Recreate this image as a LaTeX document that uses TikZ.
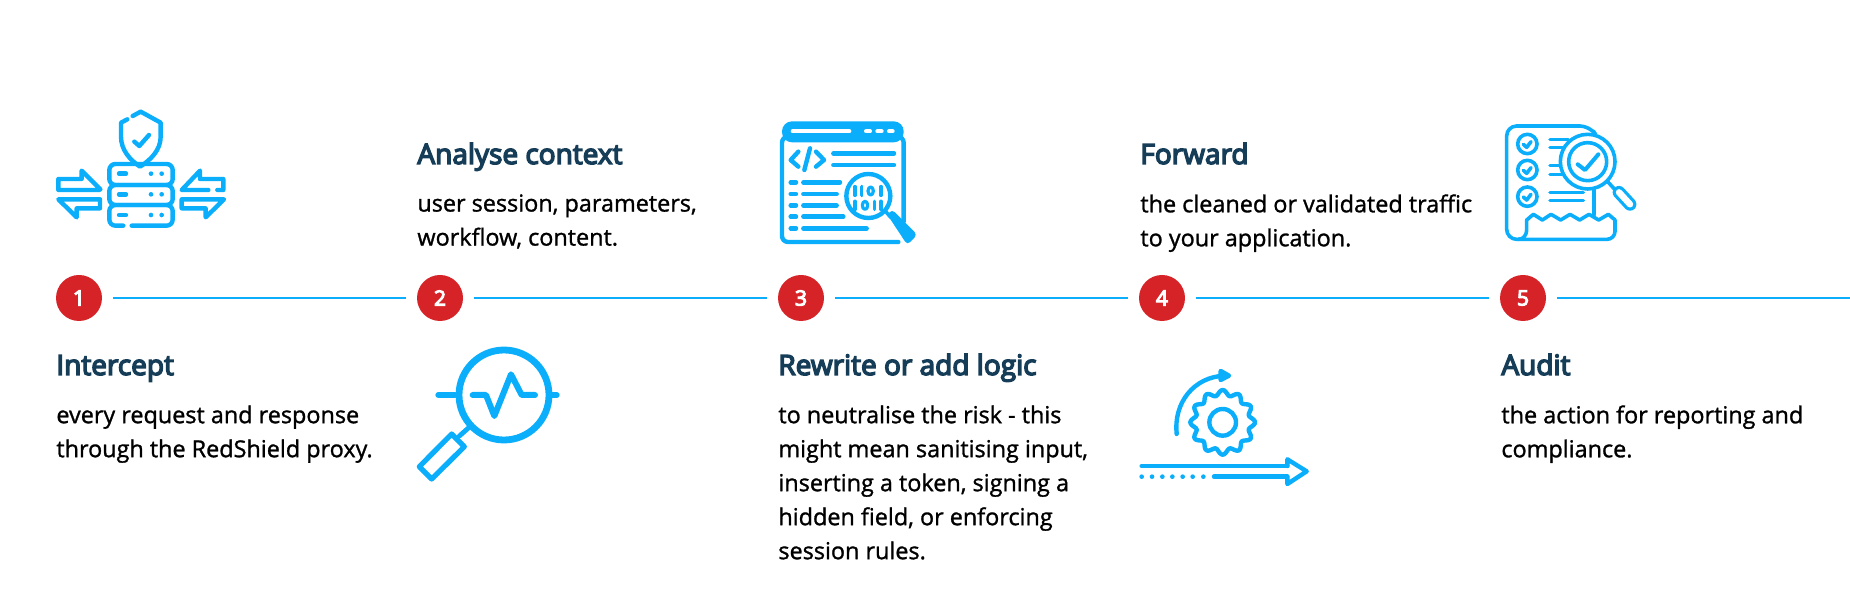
\documentclass[tikz,border=0pt]{standalone}
\usepackage{fontspec}
\setmainfont[FakeBold=1.2]{Open Sans}
\newfontfamily\headfont[FakeBold=5]{Open Sans}
\usepackage{xcolor}
\usetikzlibrary{arrows.meta,positioning}
\definecolor{iconblue}{HTML}{0AAEFB}
\definecolor{stepred}{HTML}{D62328}
\definecolor{headnavy}{HTML}{163D58}
\tikzset{
  stepnum/.style={circle,fill=stepred,text=white,minimum size=23pt,inner sep=0pt,font=\headfont\fontsize{10.5}{12}\selectfont},
  link/.style={draw=iconblue,line width=0.8pt},
  head/.style={anchor=base west,inner sep=0pt,text=headnavy,font=\headfont\fontsize{14}{17}\selectfont},
  body/.style={anchor=north west,inner sep=0pt,align=left,text=black,font=\fontsize{11.7}{17}\selectfont},
  icon/.style={draw=iconblue,line width=2.2pt,line cap=round,line join=round},
  zoomed/.style={x=0.16667pt,y=-0.16667pt},
}
\begin{document}
\begin{tikzpicture}[x=0.5pt,y=-0.5pt]
\useasboundingbox (0,0) rectangle (1850,597);
% steps and their links
\foreach \i/\x in {1/79,2/440,3/801,4/1162,5/1523} {\node[stepnum] (n\i) at (\x,298) {\i};}
\coordinate (lineend) at (1850,298);
\foreach \a/\b in {1/2,2/3,3/4,4/5} {\draw[link,shorten <=5.5pt,shorten >=5.5pt] (n\a)--(n\b);}
\draw[link,shorten <=5.5pt] (n5)--(lineend);
% texts
\node[head] (h1) at (56,375) {Intercept};
\node[body] (b1) at (56,405) {every request and response\\through the RedShield proxy.};
\node[head] (h2) at (417,164) {Analyse context};
\node[body] (b2) at (417,194) {user session, parameters,\\workflow, content.};
\node[head] (h3) at (778,375) {Rewrite or add logic};
\node[body] (b3) at (778,405) {to neutralise the risk - this\\might mean sanitising input,\\inserting a token, signing a\\hidden field, or enforcing\\session rules.};
\node[head] (h4) at (1140,164) {Forward};
\node[body] (b4) at (1140,194) {the cleaned or validated traffic\\to your application.};
\node[head] (h5) at (1501,375) {Audit};
\node[body] (b5) at (1501,405) {the action for reporting and\\compliance.};
% icon 1, shield and server
\begin{scope}[shift={(40,100)},zoomed,icon]
\draw (278,48)--(302,35)--(362,68)--(362,110) .. controls (362,150) and (332,180) .. (300,200) .. controls (270,180) and (243,150) .. (243,110)--(243,68)--(262,58);
\draw (283,125)--(298,138)--(327,105);
\draw[rounded corners=3pt] (208,192) rectangle (398,255);
\draw[rounded corners=3pt] (208,255) rectangle (398,315);
\draw[rounded corners=3pt] (275,377)--(398,377)--(398,315)--(208,315)--(208,377)--(250,377);
\foreach \y in {221,283,345} {
  \draw (237,\y)--(258,\y);
  \fill[iconblue] (333,\y) circle (7) (365,\y) circle (7);
}
\draw (178,270)--(55,270)--(55,237)--(125,237)--(125,212)--(181,268);
\draw (55,298)--(180,298)--(180,325)--(110,325)--(110,352)--cycle;
\draw (505,270)--(425,270)--(480,212)--(480,237)--(550,237)--(550,270)--(532,270);
\draw (425,298)--(552,298)--(497,352)--(497,325)--(425,325)--cycle;
\end{scope}
% icon 2, magnifier with pulse
\begin{scope}[shift={(400,330)},zoomed,icon]
\draw[line width=3.4pt] (312,195) circle (135);
\draw[line width=3pt] (115,195)--(165,195) (458,195)--(470,195);
\draw[line width=3pt] (218,195)--(258,195)--(283,258)--(333,133)--(365,195)--(405,195);
\draw[line width=2.4pt] (178,318)--(212,288);
\draw[line width=2.6pt] (155,312)--(193,350)--(95,447)--(58,410)--cycle;
\end{scope}
% icon 3, code window
\begin{scope}[shift={(770,110)},zoomed,icon]
\fill[iconblue,rounded corners=5pt] (36,97)--(36,34)--(401,34)--(401,97)--cycle;
\draw[rounded corners=3pt] (401,335)--(401,80)--(36,80)--(36,396)--(385,396);
\draw[draw=white,line width=2pt] (68,64)--(238,64) (288,64)--(300,64) (322,64)--(335,64) (357,64)--(368,64);
\draw (85,125)--(62,150)--(85,170) (138,125)--(162,150)--(138,170) (120,115)--(103,180);
\draw (190,130)--(372,130) (190,165)--(372,165);
\foreach \y/\l in {217/210,252/200,286/200,320/220,355/290} {\draw (62,\y)--(78,\y) (100,\y)--(\l,\y);}
\draw (295,258) circle (66);
\draw[line width=1.8pt] (255,230)--(255,256) (275,230)--(275,256) (333,230)--(333,256) (255,274)--(255,298) (313,274)--(313,298) (333,274)--(333,298);
\draw[line width=1.6pt] (302,243) ellipse (8 and 12) (285,286) ellipse (8 and 12);
\draw[line width=1.8pt] (345,302)--(362,322);
\fill[iconblue,line width=1pt,rounded corners=2pt] (366,298)--(442,374)--(412,405)--(352,314)--cycle;
\end{scope}
% icon 4, gear and arrow
\begin{scope}[shift={(1130,360)},zoomed,icon]
\draw plot[domain=0:360,samples=145] ({278+(89+8*cos(12*\x))*cos(\x)},{187+(89+8*cos(12*\x))*sin(\x)})--cycle;
\draw (278,187) circle (40);
\draw (140,222) .. controls (130,130) and (190,50) .. (285,47);
\fill[iconblue,draw=iconblue] (272,33)--(297,47)--(272,60)--cycle;
\draw (35,318)--(472,318) (252,350)--(472,350);
\draw (472,318)--(472,298)--(530,334)--(472,372)--(472,350);
\foreach \x in {35,66,97,127,158,188,220} {\fill[iconblue] (\x,350) circle (7);}
\end{scope}
% icon 5, report and magnifier
\begin{scope}[shift={(1495,115)},zoomed,icon,line width=1.8pt]
\draw[rounded corners=5pt] (295,48)--(285,33)--(35,33)--(35,373)--(70,373);
\draw (70,373) .. controls (85,373) and (95,360) .. (95,345)--(95,315)--(115,298)--(142,315)--(168,298)--(197,315)--(225,298)--(254,315)--(282,298)--(311,315)--(340,298)--(360,315)--(360,350);
\draw[rounded corners=4pt] (360,340)--(360,373)--(70,373);
\draw (297,225)--(297,300);
\foreach \y in {87,165,245} {
  \draw (97,\y) circle (29);
  \draw (85,\y+1)--(95,\y+10)--(108,\y-7);
}
\draw (165,73)--(220,73) (165,97)--(205,97) (165,152)--(195,152) (165,178)--(210,178) (165,232)--(265,232) (165,257)--(265,257);
\fill[white,draw=iconblue] (278,140) circle (82);
\draw (278,140) circle (57);
\draw[line width=2pt] (248,148)--(270,165)--(310,118);
\draw (338,200)--(358,222);
\draw[line width=1.6pt,double=white,double distance=3.2pt] (372,232)--(405,268);
\end{scope}
\end{tikzpicture}
\end{document}
